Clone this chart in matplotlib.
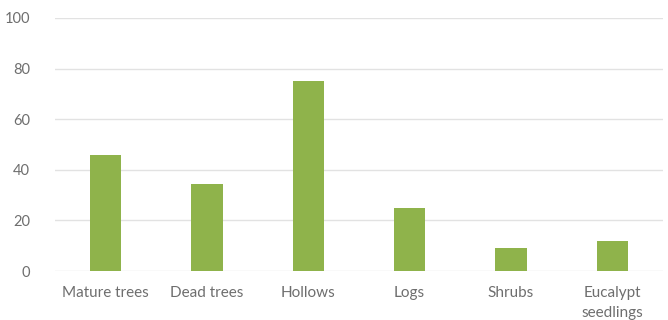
import matplotlib
matplotlib.use("Agg")
import matplotlib.pyplot as plt

categories = ["Mature trees", "Dead trees", "Hollows", "Logs", "Shrubs", "Eucalypt\nseedlings"]
values = [46, 34.5, 75, 25, 9, 12]
yticks = [0, 20, 40, 60, 80, 100]

bar_color = "#8fb34b"
text_color = "#6e6e6e"
grid_color = "#e2e2e2"

plt.rcParams["font.family"] = ["Lato", "DejaVu Sans"]

fig = plt.figure(figsize=(6.68, 3.2), dpi=100)
ax = fig.add_axes([0.0823, 0.153, 0.9102, 0.791])

x = range(len(categories))
ax.bar(x, values, width=0.31, color=bar_color, zorder=3)

ax.set_xlim(-0.5, len(categories) - 0.5)
ax.set_ylim(0, 100)
ax.set_yticks(yticks)
ax.set_xticks(list(x))
ax.set_xticklabels(categories, fontsize=11, color=text_color, linespacing=1.55)
ax.tick_params(axis="y", labelsize=10.5, labelcolor=text_color, length=0, pad=18)
ax.tick_params(axis="x", length=0, pad=11)

ax.grid(axis="y", color=grid_color, linewidth=1.0, zorder=0)
for side in ["top", "right", "left", "bottom"]:
    ax.spines[side].set_visible(False)

fig.savefig("out.png", dpi=100, facecolor="white")
